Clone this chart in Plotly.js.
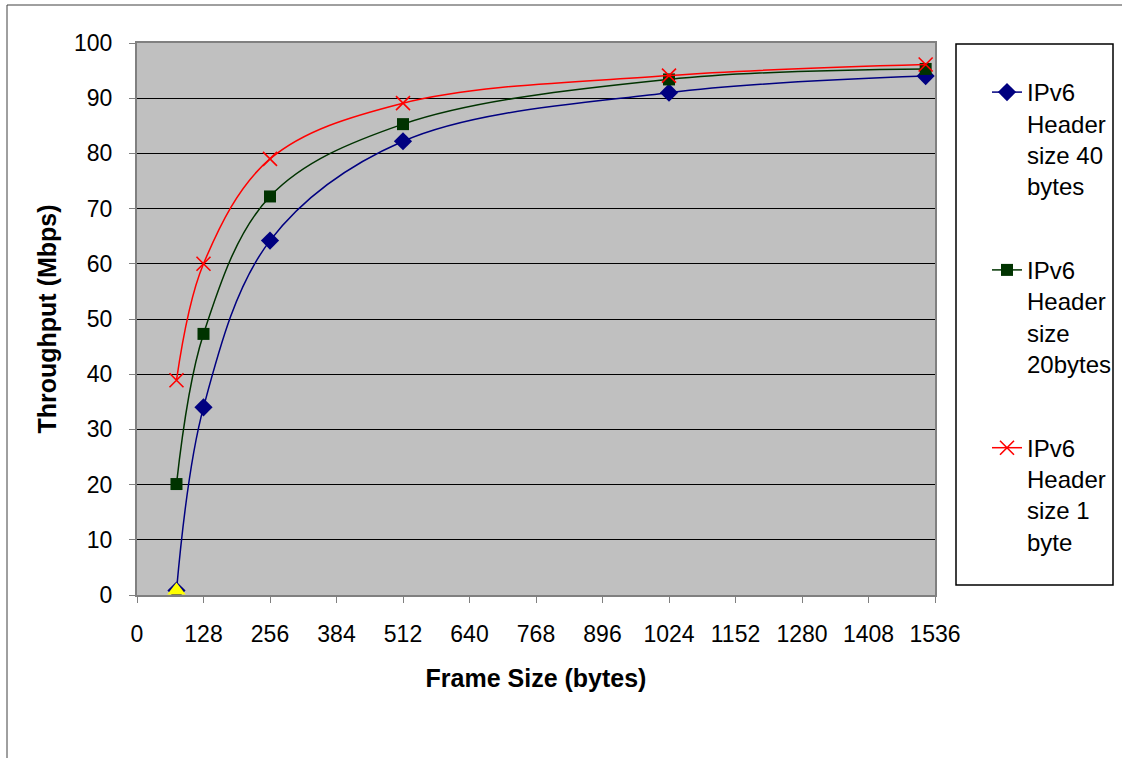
<!DOCTYPE html>
<html>
<head>
<meta charset="utf-8">
<script src="https://cdn.plot.ly/plotly-3.0.1.min.js"></script>
<style>
  html, body { margin: 0; padding: 0; background: #ffffff; }
  #chart { width: 1122px; height: 758px; }
</style>
</head>
<body>
<div id="chart"></div>
<script>
// Frame sizes (bytes) and measured throughput (Mbps) per IPv6 header size
const frameSize = [76, 128, 256, 512, 1024, 1518];
const header40 = [0.8, 34, 64.2, 82.2, 91, 94];
const header20 = [20.1, 47.3, 72.2, 85.3, 93.4, 95.3];
const header1 = [38.9, 60, 79, 89.1, 94.1, 96.1];
const seriesNames = [
  'IPv6<br>Header<br>size 40<br>bytes',
  'IPv6<br>Header<br>size<br>20bytes',
  'IPv6<br>Header<br>size 1<br>byte'
];
const xTicks = [0, 128, 256, 384, 512, 640, 768, 896, 1024, 1152, 1280, 1408, 1536];

const FONT = '"Liberation Sans", Arial, sans-serif';

// Plot area in pixels, used to place the surrounding frames in paper units
const W = 1122, H = 758;
const L = 137, R = 935, T = 43, B = 595;
const px = x => (x - L) / (R - L);
const py = y => (B - y) / (B - T);

const traces = [
  {
    x: frameSize, y: header40, name: seriesNames[0], legendgroup: 'a',
    type: 'scatter', mode: 'lines+markers',
    line: { color: '#000080', width: 1.5, shape: 'spline', smoothing: 1 },
    marker: { symbol: 'diamond', size: 14, color: '#000080' }
  },
  {
    x: frameSize, y: header20, name: seriesNames[1], legendgroup: 'b',
    type: 'scatter', mode: 'lines+markers',
    line: { color: '#003300', width: 1.5, shape: 'spline', smoothing: 1 },
    marker: { symbol: 'square', size: 12, color: '#003300' }
  },
  {
    x: frameSize, y: header1, name: seriesNames[2], legendgroup: 'c',
    type: 'scatter', mode: 'lines+markers',
    line: { color: '#ff0000', width: 1.5, shape: 'spline', smoothing: 1 },
    marker: { symbol: 'x-thin', size: 14, color: '#ff0000', line: { color: '#ff0000', width: 1.6 } }
  },
  {
    // highlighted first point of the 40-byte series
    x: [frameSize[0]], y: [header40[0]], type: 'scatter', mode: 'markers',
    showlegend: false, hoverinfo: 'skip',
    marker: { symbol: 'triangle-up', size: 16, color: '#ffff00' }
  }
];

const layout = {
  width: W, height: H,
  margin: { l: L, r: W - R, t: T, b: H - B, autoexpand: false },
  paper_bgcolor: '#ffffff',
  plot_bgcolor: '#c0c0c0',
  font: { family: FONT, color: '#000000', size: 22 },
  showlegend: true,
  xaxis: {
    range: [0, 1536],
    tickmode: 'array', tickvals: xTicks, ticktext: xTicks.map(String),
    showgrid: false, zeroline: false,
    showline: true, linecolor: '#808080', linewidth: 2, mirror: true,
    ticks: 'outside', ticklen: 6, tickcolor: '#808080', tickwidth: 1,
    ticklabelstandoff: 11,
    tickfont: { family: FONT, size: 23, color: '#000000' },
    title: { text: 'Frame Size (bytes)', font: { family: FONT, size: 25, color: '#000000', weight: 'bold' }, standoff: 24 },
    automargin: false,
    fixedrange: true
  },
  yaxis: {
    range: [0, 100], dtick: 10, tick0: 0,
    showgrid: true, gridcolor: '#000000', gridwidth: 1, zeroline: false,
    showline: true, linecolor: '#808080', linewidth: 2, mirror: true,
    ticks: 'outside', ticklen: 6, tickcolor: '#808080', tickwidth: 1,
    ticklabelstandoff: 12,
    tickfont: { family: FONT, size: 23, color: '#000000' },
    title: { text: 'Throughput (Mbps)', font: { family: FONT, size: 25, color: '#000000', weight: 'bold' }, standoff: 10 },
    automargin: false,
    fixedrange: true
  },
  legend: {
    x: px(987), y: py(70), xanchor: 'left', yanchor: 'top',
    bgcolor: 'rgba(0,0,0,0)', borderwidth: 0,
    font: { family: FONT, size: 24, color: '#000000' },
    valign: 'top', tracegroupgap: 50,
    itemclick: false, itemdoubleclick: false
  },
  shapes: [
    // legend frame
    { type: 'rect', xref: 'paper', yref: 'paper', layer: 'below',
      x0: px(956), x1: px(1113), y0: py(585), y1: py(44),
      line: { color: '#000000', width: 1.5 }, fillcolor: 'rgba(0,0,0,0)' },
    // chart frame
    { type: 'rect', xref: 'paper', yref: 'paper', layer: 'below',
      x0: px(7), x1: px(1130), y0: py(770), y1: py(5),
      line: { color: '#404040', width: 1 }, fillcolor: 'rgba(0,0,0,0)' }
  ]
};

Plotly.newPlot('chart', traces, layout, { displayModeBar: false, staticPlot: true });
</script>
</body>
</html>
